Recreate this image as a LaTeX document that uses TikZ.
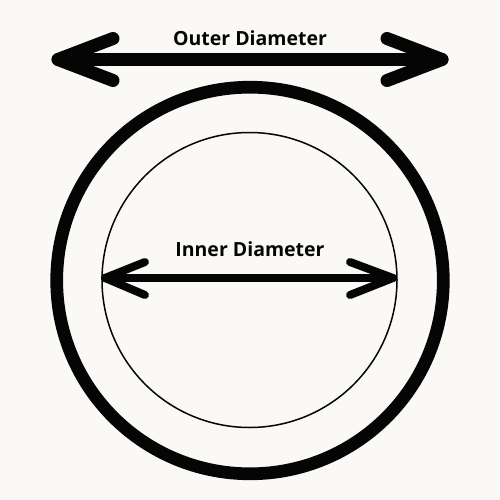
\documentclass[tikz,border=0pt]{standalone}
\usepackage{fontspec}
\setmainfont{Open Sans}
\definecolor{bg}{HTML}{FAF9F6}
\definecolor{ink}{HTML}{050505}
\begin{document}
\begin{tikzpicture}[x=1pt,y=-1pt,
  bigline/.style={draw=ink,line width=13pt,line cap=round,line join=round},
  smallline/.style={draw=ink,line width=8pt,line cap=round,line join=round},
  lbl/.style={anchor=base,inner sep=0pt,font=\fontsize{19.5}{22}\selectfont\bfseries,text=ink}]
\fill[bg] (0,0) rectangle (500,500);
\useasboundingbox (0,0) rectangle (500,500);
% circles
\draw[ink,line width=12.7pt] (250,280.5) circle[radius=193.3];
\draw[ink,line width=1.5pt] (249.5,280) circle[radius=147.5];
% outer arrow
\coordinate (oL) at (58,59.5);
\coordinate (oR) at (442,59.5);
\coordinate (oLu) at (113,38.5);
\coordinate (oLd) at (113,80.5);
\coordinate (oRu) at (387,38.5);
\coordinate (oRd) at (387,80.5);
\draw[bigline] (oL) -- (oR);
\draw[bigline] (oLu) -- (oL) -- (oLd);
\draw[bigline] (oRu) -- (oR) -- (oRd);
% inner arrow
\coordinate (iL) at (105,278);
\coordinate (iR) at (393,278);
\coordinate (iLu) at (145,262);
\coordinate (iLd) at (145,295);
\coordinate (iRu) at (350,262);
\coordinate (iRd) at (350,295);
\draw[smallline] (iL) -- (iR);
\draw[smallline] (iLu) -- (iL) -- (iLd);
\draw[smallline] (iRu) -- (iR) -- (iRd);
% labels
\node[lbl] (outer) at (250,46) {Outer Diameter};
\node[lbl] (inner) at (250,256.5) {Inner Diameter};
\end{tikzpicture}
\end{document}
